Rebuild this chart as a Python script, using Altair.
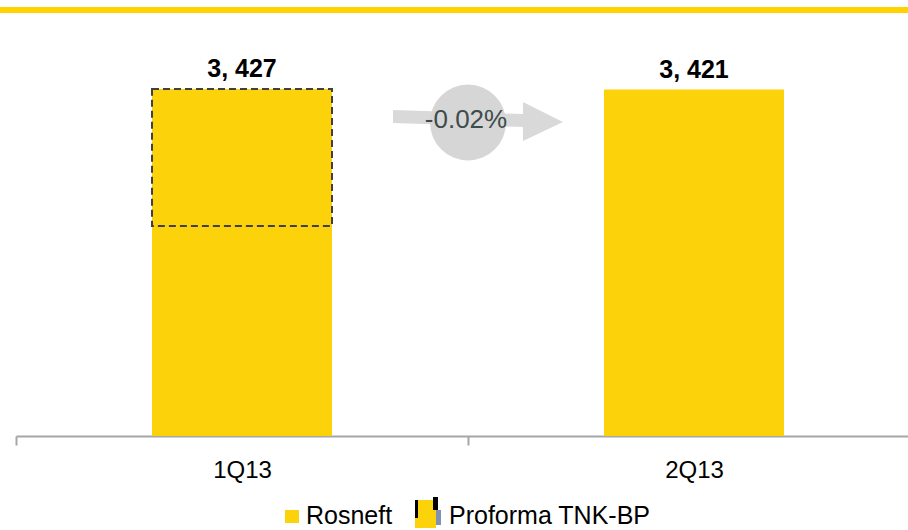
import altair as alt
import pandas as pd

# Production by quarter (thousand boe per day)
quarters = ["1Q13", "2Q13"]
rosneft = [2075, 3421]
tnk_bp = [1352, 0]
change_label = "-0.02%"

YELLOW = "#FCD20A"
GREY = "#D9D9D9"
FONT = "Liberation Sans"

totals = [r + t for r, t in zip(rosneft, tnk_bp)]
labels = [f"{v // 1000}, {v % 1000:03d}" for v in totals]

df = pd.DataFrame({
    "quarter": quarters,
    "rosneft": rosneft,
    "tnk": tnk_bp,
    "total": totals,
    "label": labels,
})

x_enc = alt.X(
    "quarter:N",
    sort=quarters,
    scale=alt.Scale(range=[0, 904], paddingInner=0, paddingOuter=0),
    axis=alt.Axis(
        title=None,
        labelAngle=0,
        labelFont=FONT,
        labelFontSize=24,
        labelColor="#000000",
        labelBaseline="alphabetic",
        labelPadding=32,
        tickBand="extent",
        tickSize=9,
        tickColor="#A6A6A6",
        tickWidth=2,
        domainColor="#A6A6A6",
        domainWidth=2,
        grid=False,
    ),
)
y_scale = alt.Scale(domain=[0, 4000], nice=False)

base = alt.Chart(df)

rosneft_bars = base.mark_bar(size=180, color=YELLOW).encode(
    x=x_enc,
    y=alt.Y("rosneft:Q", scale=y_scale, axis=None),
    y2=alt.Y2(datum=0),
)

tnk_bars = base.transform_filter("datum.tnk > 0").mark_bar(
    size=180, fill=YELLOW, stroke="#404040", strokeWidth=2, strokeDash=[7, 4]
).encode(
    x=alt.X("quarter:N", sort=quarters),
    y=alt.Y("rosneft:Q", scale=y_scale),
    y2="total:Q",
)

value_labels = base.mark_text(
    font=FONT, fontSize=25, fontWeight="bold", color="#000000",
    baseline="alphabetic", dy=-12,
).encode(
    x=alt.X("quarter:N", sort=quarters),
    y=alt.Y("total:Q", scale=y_scale),
    text="label:N",
)

one = pd.DataFrame({"k": [0]})
ann = alt.Chart(one)

# Grey arrow with a disc carrying the change between quarters
arrow_path = ("M -1 -0.129 L 0.529 -0.082 L 0.529 -0.224 L 1 0.012 "
              "L 0.529 0.235 L 0.529 0.071 L -1 0.024 Z")
arrow = ann.mark_point(shape=arrow_path, filled=True, color=GREY, opacity=1,
                       size=28900, strokeWidth=0).encode(
    x=alt.value(462), y=alt.value(90))
disc = ann.mark_point(shape="circle", filled=True, color="#D6D6D6", opacity=1,
                      size=5776, strokeWidth=0).encode(
    x=alt.value(452), y=alt.value(91.5))
change_text = ann.mark_text(font=FONT, fontSize=26, color="#3E4C4C",
                            align="center", baseline="alphabetic").encode(
    x=alt.value(450), y=alt.value(97), text=alt.value(change_label))

# Yellow band across the top
top_band = ann.mark_rule(color="#FFD200", strokeWidth=6).encode(
    x=alt.value(-16), x2=alt.value(892), y=alt.value(-21))

# Legend
leg_ros = ann.mark_rect(color=YELLOW).encode(
    x=alt.value(269), x2=alt.value(283), y=alt.value(479), y2=alt.value(492))
leg_ros_text = ann.mark_text(font=FONT, fontSize=25, color="#000000",
                             align="left", baseline="alphabetic").encode(
    x=alt.value(290), y=alt.value(493), text=alt.value("Rosneft"))
leg_tnk = ann.mark_rect(color=YELLOW).encode(
    x=alt.value(399), x2=alt.value(420), y=alt.value(469), y2=alt.value(497))
leg_tnk_l = ann.mark_rect(color="#000000").encode(
    x=alt.value(399), x2=alt.value(402), y=alt.value(469), y2=alt.value(487))
leg_tnk_r = ann.mark_rect(color="#000000").encode(
    x=alt.value(417), x2=alt.value(422), y=alt.value(466), y2=alt.value(479))
leg_tnk_b = ann.mark_rect(color="#7F92B4").encode(
    x=alt.value(420), x2=alt.value(425), y=alt.value(479), y2=alt.value(494))
leg_tnk_text = ann.mark_text(font=FONT, fontSize=25, color="#000000",
                             align="left", baseline="alphabetic").encode(
    x=alt.value(433), y=alt.value(493), text=alt.value("Proforma TNK-BP"))

chart = alt.layer(
    top_band,
    rosneft_bars,
    tnk_bars,
    value_labels,
    arrow,
    disc,
    change_text,
    leg_ros, leg_ros_text,
    leg_tnk, leg_tnk_l, leg_tnk_r, leg_tnk_b, leg_tnk_text,
).properties(
    width=892,
    height=405,
    autosize=alt.AutoSizeParams(type="none"),
    padding={"left": 16, "top": 31, "right": 0, "bottom": 94},
    background="#FFFFFF",
).configure_view(strokeWidth=0, stroke=None)

chart.save("out.html", embed_options={"renderer": "svg", "actions": False})
